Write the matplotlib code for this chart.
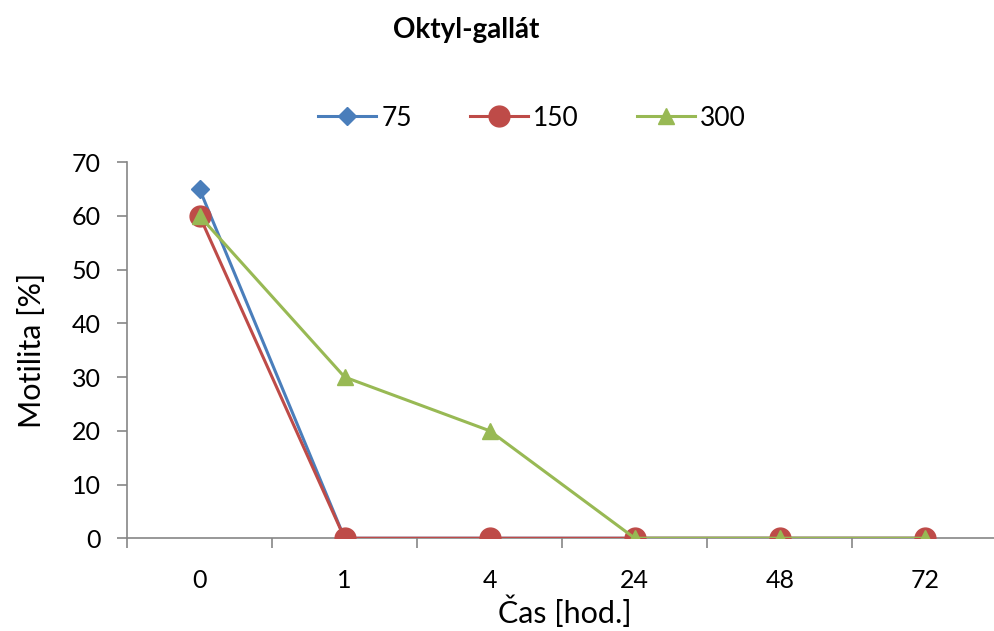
import numpy as np
import matplotlib.pyplot as plt

# data
categories = ['0', '1', '4', '24', '48', '72']
s75 = [65, 0, 0, 0, 0, 0]
s150 = [60, 0, 0, 0, 0, 0]
s300 = [60, 30, 20, 0, 0, 0]

plt.rcParams['font.family'] = ['Lato', 'DejaVu Sans']

fig = plt.figure(figsize=(9.95, 6.31), dpi=100)
ax = fig.add_axes([0.1276, 0.147, 0.875, 0.596])

x = np.arange(len(categories))
ax.plot(x, s75, color='#4A7EBB', lw=2.2, marker='D', ms=9.5, label='75', zorder=3)
ax.plot(x, s150, color='#BE4B48', lw=2.2, marker='o', ms=15, label='150', zorder=4)
ax.plot(x, s300, color='#98B954', lw=2.2, marker='^', ms=11, label='300', zorder=5)

ax.set_xlim(-0.5, len(categories) - 0.5)
ax.set_ylim(0, 70)
ax.set_yticks(range(0, 71, 10))
ax.set_xticks(x)
ax.set_xticklabels(categories)
ax.set_xticks(np.arange(-0.5, len(categories), 1), minor=True)
ax.tick_params(axis='x', which='major', length=0, pad=22, labelsize=18)
ax.tick_params(axis='x', which='minor', length=7, color='#868686', width=1.2, direction='out')
ax.tick_params(axis='y', length=7, color='#868686', width=1.2, labelsize=18, pad=12)

for s in ['top', 'right']:
    ax.spines[s].set_visible(False)
for s in ['left', 'bottom']:
    ax.spines[s].set_color('#868686')
    ax.spines[s].set_linewidth(1.2)

ax.set_xlabel('Čas [hod.]', fontsize=22)
ax.xaxis.set_label_coords((565 - 127) / (0.875 * 995), -(612 - 538) / (0.596 * 631), transform=ax.transAxes)
ax.xaxis.label.set_va('center')
ax.set_ylabel('Motilita [%]', fontsize=22, labelpad=18)

fig.text(466 / 995, 1 - 30 / 631, 'Oktyl-gallát', ha='center', va='center',
         fontsize=20, fontweight='bold')

fig.legend(loc='center', bbox_to_anchor=(532 / 995, 1 - 118 / 631), ncol=3,
           frameon=False, fontsize=19, handlelength=2.2, columnspacing=2.2,
           handletextpad=0.2)

fig.savefig('out.png', dpi=100)
